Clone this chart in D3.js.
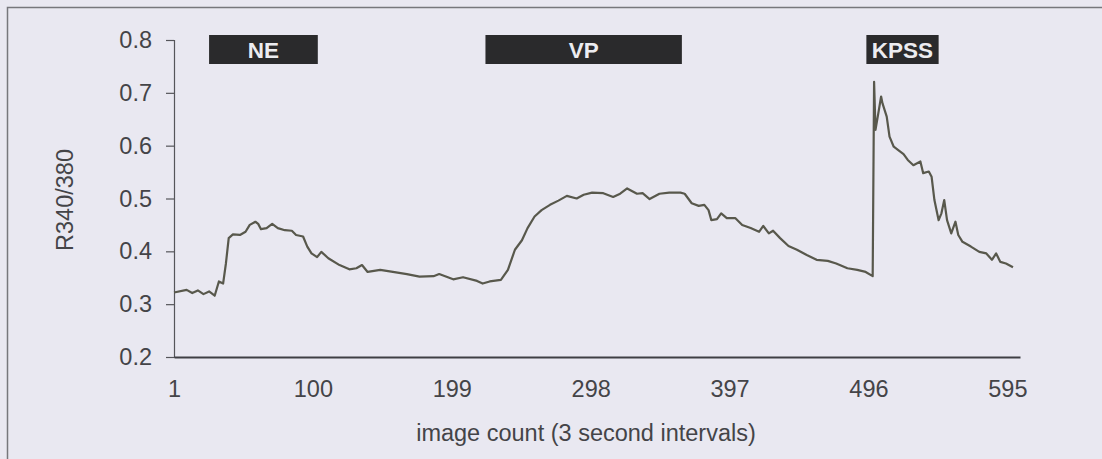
<!DOCTYPE html>
<html>
<head>
<meta charset="utf-8">
<script src="https://cdn.jsdelivr.net/npm/d3@7"></script>
<style>
  html, body { margin: 0; padding: 0; background: #e9e8f1; }
  svg { display: block; }
</style>
</head>
<body>
<svg id="chart" width="1102" height="459"></svg>
<script>
// ---- data ----
const imageCount = [1, 10, 14, 18, 22, 26, 30, 33, 36, 38, 40, 43, 48, 52, 55, 59, 61, 63, 67, 71, 75, 80, 85, 88, 93, 96, 99, 103, 106, 111, 119, 126, 131, 135, 139, 148, 157, 167, 176, 186, 190, 200, 207, 217, 221, 226, 234, 239, 244, 249, 253, 258, 263, 269, 275, 281, 288, 293, 299, 307, 314, 319, 324, 331, 335, 340, 347, 354, 362, 365, 370, 375, 379, 382, 384, 388, 391, 395, 401, 406, 412, 418, 421, 425, 428, 433, 439, 445, 452, 459, 467, 473, 481, 488, 494, 499, 500, 501, 503, 505, 506, 509, 511, 514, 517, 521, 524, 528, 533, 535, 539, 541, 543, 546, 548, 550, 552, 555, 558, 560, 563, 569, 575, 580, 584, 587, 590, 594, 599];
const ratio = [0.322, 0.327, 0.321, 0.326, 0.319, 0.324, 0.316, 0.343, 0.339, 0.377, 0.425, 0.432, 0.431, 0.437, 0.450, 0.456, 0.452, 0.442, 0.444, 0.452, 0.444, 0.440, 0.439, 0.431, 0.428, 0.409, 0.396, 0.389, 0.399, 0.387, 0.374, 0.366, 0.368, 0.374, 0.361, 0.365, 0.361, 0.357, 0.352, 0.353, 0.357, 0.347, 0.351, 0.344, 0.339, 0.343, 0.346, 0.365, 0.403, 0.421, 0.444, 0.466, 0.478, 0.488, 0.496, 0.505, 0.500, 0.507, 0.511, 0.510, 0.503, 0.509, 0.519, 0.509, 0.510, 0.499, 0.509, 0.511, 0.511, 0.509, 0.491, 0.486, 0.488, 0.478, 0.459, 0.461, 0.472, 0.463, 0.463, 0.450, 0.444, 0.437, 0.448, 0.434, 0.439, 0.425, 0.410, 0.403, 0.393, 0.384, 0.382, 0.377, 0.368, 0.365, 0.361, 0.353, 0.721, 0.630, 0.661, 0.693, 0.680, 0.655, 0.617, 0.598, 0.592, 0.584, 0.573, 0.563, 0.570, 0.548, 0.551, 0.541, 0.497, 0.459, 0.472, 0.497, 0.459, 0.434, 0.456, 0.431, 0.418, 0.409, 0.399, 0.396, 0.384, 0.396, 0.380, 0.377, 0.370];

const stimulusNames = ["NE", "VP", "KPSS"];
const stimulusStart = [26, 223, 494.5];
const stimulusEnd = [103.5, 363, 546];

const xTicks = [1, 100, 199, 298, 397, 496, 595];
const yTicks = [0.2, 0.3, 0.4, 0.5, 0.6, 0.7, 0.8];
const xTitle = "image count (3 second intervals)";
const yTitle = "R340/380";

// ---- layout ----
const svg = d3.select("#chart");
const plotLeft = 174, plotRight = 1020, plotTop = 40, plotBottom = 357;
const font = "'Liberation Sans', Arial, sans-serif";
const textColor = "#444448";
const fs = 23.5;

const x = d3.scaleLinear().domain([1, 604]).range([plotLeft, plotRight]);
const y = d3.scaleLinear().domain([0.2, 0.8]).range([plotBottom, plotTop]);

// background & frame
svg.append("rect").attr("width", 1102).attr("height", 459).attr("fill", "#e9e8f1");
svg.append("path")
  .attr("d", "M7.5,470 V7.5 H1110")
  .attr("fill", "none").attr("stroke", "#77777c").attr("stroke-width", 1.5);

// y axis
const yAxis = svg.append("g")
  .attr("transform", `translate(${plotLeft},0)`)
  .call(d3.axisLeft(y).tickValues(yTicks).tickFormat(d3.format(".1f")).tickSizeOuter(0).tickSize(8).tickPadding(14));
yAxis.select(".domain").attr("stroke", "#55555a").attr("stroke-width", 1.2);
yAxis.selectAll(".tick line").attr("stroke", "#55555a").attr("stroke-width", 1.2);
yAxis.selectAll("text").attr("font-family", font).attr("font-size", fs).attr("fill", textColor);

// x axis
const xAxis = svg.append("g")
  .attr("transform", `translate(0,${plotBottom})`)
  .call(d3.axisBottom(x).tickValues(xTicks).tickFormat(d3.format("d")).tickSize(0).tickSizeOuter(0).tickPadding(23));
xAxis.select(".domain").attr("stroke", "#3f3f44").attr("stroke-width", 2.2);
xAxis.selectAll("text").attr("font-family", font).attr("font-size", fs).attr("fill", textColor);

// axis titles
svg.append("text")
  .attr("x", 586).attr("y", 441)
  .attr("text-anchor", "middle")
  .attr("font-family", font).attr("font-size", fs).attr("fill", textColor)
  .text(xTitle);
svg.append("text")
  .attr("transform", "translate(73,200) rotate(-90)")
  .attr("text-anchor", "middle")
  .attr("font-family", font).attr("font-size", fs).attr("fill", textColor)
  .text(yTitle);

// trace
const pts = imageCount.map((c, i) => [c, ratio[i]]);
svg.append("path")
  .datum(pts)
  .attr("fill", "none")
  .attr("stroke", "#58584c")
  .attr("stroke-width", 2.2)
  .attr("stroke-linejoin", "round")
  .attr("d", d3.line().x(d => x(d[0])).y(d => y(d[1])));

// stimulus bars
const bars = svg.append("g");
stimulusNames.forEach((name, i) => {
  const x0 = x(stimulusStart[i]), x1 = x(stimulusEnd[i]);
  bars.append("rect")
    .attr("x", x0).attr("y", 35)
    .attr("width", x1 - x0).attr("height", 29)
    .attr("fill", "#2a2a2c");
  bars.append("text")
    .attr("x", (x0 + x1) / 2).attr("y", 58)
    .attr("text-anchor", "middle")
    .attr("font-family", font).attr("font-weight", "bold").attr("font-size", 22.5)
    .attr("fill", "#ececf0")
    .text(name);
});
</script>
</body>
</html>
